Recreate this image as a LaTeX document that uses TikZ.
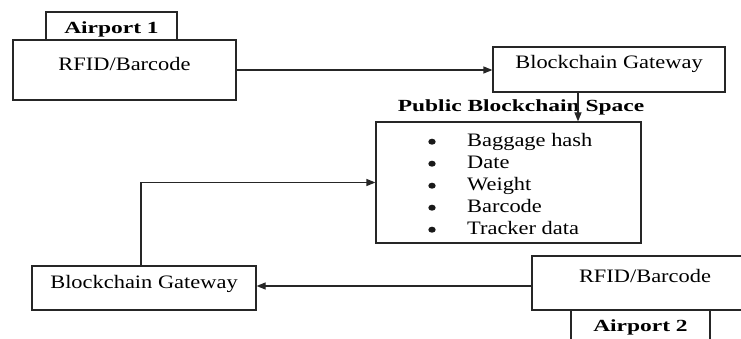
\documentclass[tikz,border=0pt]{standalone}
\usepackage{fontspec}
\setmainfont{Liberation Serif}
\newfontfamily\rgfont{Liberation Serif}[FakeStretch=1.18]
\newfontfamily\bdfont{Liberation Serif}[FakeStretch=1.38]
\usetikzlibrary{arrows.meta}
\tikzset{
  box/.style={draw=black!85, line width=1.2pt, inner sep=0pt, fill=white,
    font=\rgfont\fontsize{19}{22}\selectfont},
  bbox/.style={box, font=\bdfont\bfseries\fontsize{17}{20}\selectfont},
  arr/.style={draw=black!85, line width=1.2pt, -{Triangle[length=9pt,width=7pt]}},
  bul/.style={fill=black!90},
}
\begin{document}
\begin{tikzpicture}[x=1pt,y=-1pt]
\useasboundingbox (0,0) rectangle (741,339);
\clip (0,0) rectangle (741,339);
% Airport 1 side
\node[bbox, minimum width=131pt, minimum height=28pt, text height=20pt, text depth=4pt] (air1) at (111.5,26) {Airport 1};
\node[box, minimum width=223pt, minimum height=60pt, text height=13pt, text depth=11pt] (rfid1) at (124.5,70) {RFID/Barcode};
\node[box, minimum width=232pt, minimum height=45pt, text height=13pt, text depth=14pt] (bg1) at (609,69.5) {Blockchain Gateway};
% data box
\node[box, minimum width=265pt, minimum height=121pt] (data) at (508.5,182.5) {};
\node[anchor=base west, inner sep=0pt, font=\rgfont\fontsize{19}{22}\selectfont] (list) at (467,147)
  {\begin{tabular}[t]{@{}l@{}}
   Baggage hash\\
   Date\\
   Weight\\
   Barcode\\
   Tracker data
   \end{tabular}};
\foreach \yy in {141.7,163.7,185.7,207.7,229.7}
  \fill[bul] (432,\yy) ellipse [x radius=3.7pt, y radius=3pt];
\node[font=\bdfont\bfseries\fontsize{17}{20}\selectfont, inner sep=0pt] (pbs) at (521,107) {Public Blockchain Space};
% Airport 2 side
\node[box, minimum width=224pt, minimum height=44pt, text height=13pt, text depth=12.4pt] (bg2) at (144,288) {Blockchain Gateway};
\node[box, minimum width=226pt, minimum height=54pt, text height=13pt, text depth=15pt] (rfid2) at (645,283) {RFID/Barcode};
\node[bbox, minimum width=139pt, minimum height=35pt, text height=13pt, text depth=5pt] (air2) at (640.5,327.5) {Airport 2};
% helper coordinates
\coordinate (c1) at (578,0);
\coordinate (c2) at (141,0);
\coordinate (c3) at (0,286);
% connectors
\draw[arr] (rfid1.east) -- (rfid1.east -| bg1.west);
\draw[arr] (bg1.south -| c1) -- (data.north -| c1);
\draw[arr] (bg2.north -| c2) |- (data.west);
\draw[arr] (rfid2.west |- c3) -- (bg2.east |- c3);
\end{tikzpicture}
\end{document}
